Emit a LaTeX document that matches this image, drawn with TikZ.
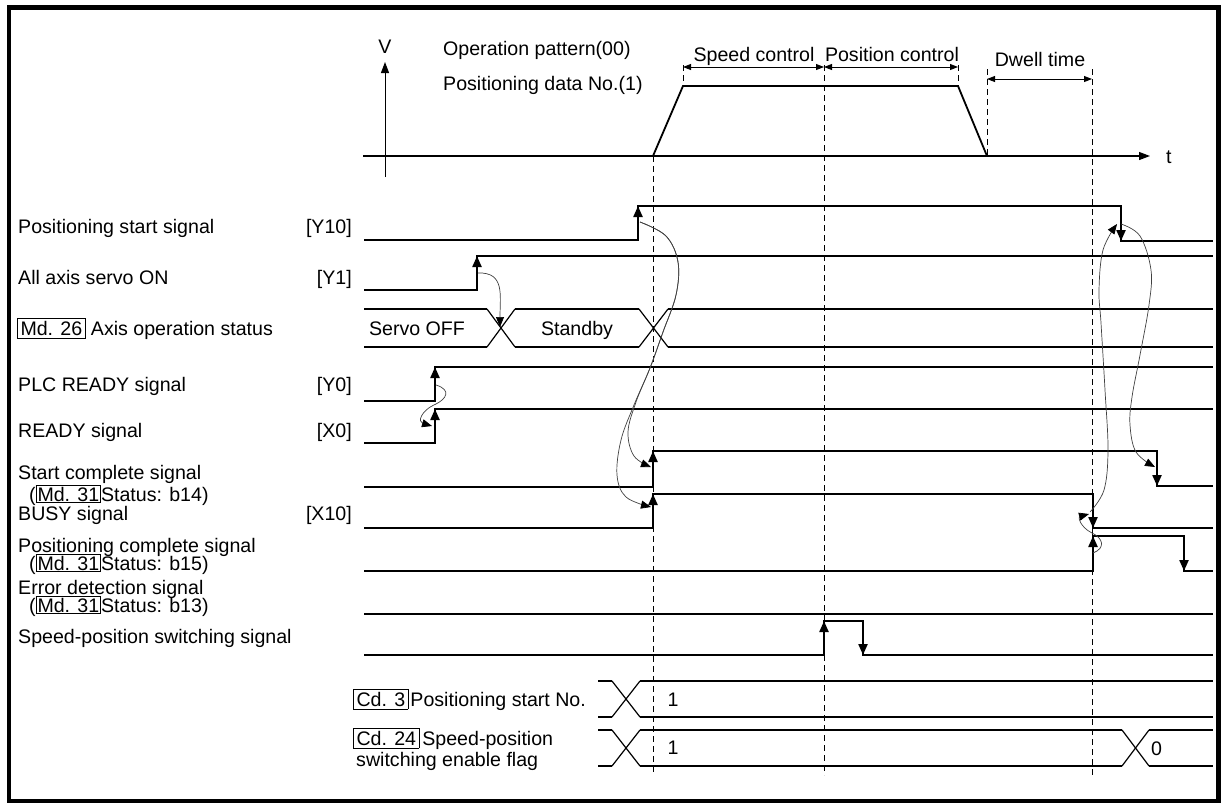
\documentclass[tikz,border=0pt]{standalone}
\usepackage{fontspec}
\setmainfont{Liberation Sans}
\usetikzlibrary{arrows.meta}
\newcommand{\bx}[1]{{\setlength{\fboxsep}{2.5pt}\setlength{\fboxrule}{0.8pt}\fbox{#1}}}
\newcommand{\tbx}[1]{{\setlength{\fboxsep}{1pt}\setlength{\fboxrule}{0.8pt}\fbox{#1}}}
\begin{document}
\begin{tikzpicture}[x=1pt,y=-1pt,
  every node/.style={font=\fontsize{19.6}{21}\selectfont, inner sep=0pt},
  sig/.style={line width=2.2pt},
  bus/.style={line width=2.2pt},
  xing/.style={line width=1.2pt},
  edgearr/.style={line width=2.2pt,-{Triangle[length=11pt,width=9pt]}},
  dashline/.style={line width=0.8pt, dash pattern=on 6pt off 4pt},
  note/.style={line width=0.7pt, draw=black!75},
  notearr/.style={note, -{Triangle[length=10pt,width=8pt,color=black,fill=black]}},
  dimarr/.style={line width=0.9pt, {Triangle[length=8pt,width=6pt]}-{Triangle[length=8pt,width=6pt]}},
  lbl/.style={anchor=base west},
  rlbl/.style={anchor=base east},
  clbl/.style={anchor=base}
]
\useasboundingbox (0,0) rectangle (1221,807);
\draw[line width=4.5pt] (9,7.5) rectangle (1218.5,801);

% ---- velocity chart ----
\draw[line width=1pt,-{Triangle[length=11pt,width=8pt]}] (385,177) -- (385,62);
\node[clbl] (V) at (385,53) {V};
\draw[line width=1.2pt,-{Triangle[length=11pt,width=8pt]}] (363,156) -- (1150,156);
\node[lbl] (t) at (1166,163) {t};
\node[lbl] (op) at (443,55) {Operation pattern(00)};
\node[lbl] (pd) at (443,90) {Positioning data No.(1)};
\draw[line width=1.8pt] (653,156) -- (683,86) -- (958,86) -- (987,156);

\draw[dashline] (653,156) -- (653,775);
\draw[dashline] (683,65) -- (683,86);
\draw[dashline] (824,65) -- (824,775);
\draw[dashline] (958,65) -- (958,86);
\draw[dashline] (987,69) -- (987,156);
\draw[dashline] (1092,69) -- (1092,775);

\draw[dimarr] (683,67) -- (824,67);
\draw[dimarr] (824,67) -- (958,67);
\draw[dimarr] (987,79) -- (1092,79);
\node[clbl] (sc) at (754,61) {Speed control};
\node[clbl] (pc) at (892,61) {Position control};
\node[clbl] (dw) at (1040,66) {Dwell time};

% ---- labels ----
\node[lbl] (l1) at (18,233) {Positioning start signal};
\node[rlbl] (r1) at (352,233) {[Y10]};
\node[lbl] (l2) at (18,284) {All axis servo ON};
\node[rlbl] (r2) at (352,284) {[Y1]};
\node[lbl] (l3) at (17,335) {\bx{Md. 26} Axis operation status};
\node[lbl] (l4) at (18,391) {PLC READY signal};
\node[rlbl] (r4) at (352,391) {[Y0]};
\node[lbl] (l5) at (18,437) {READY signal};
\node[rlbl] (r5) at (352,437) {[X0]};
\node[lbl] (l6) at (18,479) {Start complete signal};
\node[lbl] (l6b) at (29,501) {(\tbx{Md. 31}Status: b14)};
\node[lbl] (l7) at (18,520) {BUSY signal};
\node[rlbl] (r7) at (352,520) {[X10]};
\node[lbl] (l8) at (18,552) {Positioning complete signal};
\node[lbl] (l8b) at (29,570) {(\tbx{Md. 31}Status: b15)};
\node[lbl] (l9) at (18,594) {Error detection signal};
\node[lbl] (l9b) at (29,612) {(\tbx{Md. 31}Status: b13)};
\node[lbl] (l10) at (18,643) {Speed-position switching signal};
\node[lbl] (l11) at (353,706) {\bx{Cd. 3}\kern2pt Positioning start No.};
\node[lbl] (l12) at (353,745) {\bx{Cd. 24}\kern3pt Speed-position};
\node[lbl] (l12b) at (356,766) {switching enable flag};

% ---- signals ----
% Y10
\draw[sig] (364,240) -- (638,240) -- (638,206) -- (1121,206) -- (1121,241) -- (1213,241);
\draw[edgearr] (638,240) -- (638,206);
\draw[edgearr] (1121,206) -- (1121,241);
% Y1
\draw[sig] (364,290) -- (477,290) -- (477,256) -- (1213,256);
\draw[edgearr] (477,290) -- (477,256);
% Md.26 bus
\draw[bus] (364,309) -- (487,309);
\draw[bus] (364,347) -- (487,347);
\draw[xing] (487,309) -- (515,347);
\draw[xing] (487,347) -- (515,309);
\draw[bus] (515,309) -- (639,309);
\draw[bus] (515,347) -- (639,347);
\draw[xing] (639,309) -- (668,347);
\draw[xing] (639,347) -- (668,309);
\draw[bus] (668,309) -- (1213,309);
\draw[bus] (668,347) -- (1213,347);
\node[clbl] (so) at (417,335) {Servo OFF};
\node[clbl] (sb) at (577,335) {Standby};
% Y0
\draw[sig] (364,401) -- (435,401) -- (435,367) -- (1213,367);
\draw[edgearr] (435,401) -- (435,367);
% X0
\draw[sig] (364,443) -- (435,443) -- (435,409) -- (1213,409);
\draw[edgearr] (435,443) -- (435,409);
% start complete
\draw[sig] (364,487) -- (653,487) -- (653,451) -- (1157,451) -- (1157,486) -- (1213,486);
\draw[edgearr] (653,487) -- (653,451);
\draw[edgearr] (1157,451) -- (1157,486);
% BUSY
\draw[sig] (364,528) -- (653,528) -- (653,494) -- (1093,494) -- (1093,528) -- (1213,528);
\draw[edgearr] (653,528) -- (653,494);
\draw[edgearr] (1093,494) -- (1093,528);
% positioning complete
\draw[sig] (364,571) -- (1093,571) -- (1093,536) -- (1184,536) -- (1184,571) -- (1213,571);
\draw[edgearr] (1093,571) -- (1093,536);
\draw[edgearr] (1184,536) -- (1184,571);
% error detection
\draw[sig] (364,614) -- (1213,614);
% speed-position switching
\draw[sig] (364,655) -- (824,655) -- (824,621) -- (863,621) -- (863,655) -- (1213,655);
\draw[edgearr] (824,655) -- (824,621);
\draw[edgearr] (863,621) -- (863,655);
% Cd.3 bus
\draw[bus] (598,681) -- (612,681);
\draw[bus] (598,717) -- (612,717);
\draw[xing] (612,681) -- (640,717);
\draw[xing] (612,717) -- (640,681);
\draw[bus] (640,681) -- (1213,681);
\draw[bus] (640,717) -- (1213,717);
\node[clbl] (v1) at (673,706) {1};
% Cd.24 bus
\draw[bus] (598,730) -- (612,730);
\draw[bus] (598,766) -- (612,766);
\draw[xing] (612,730) -- (640,766);
\draw[xing] (612,766) -- (640,730);
\draw[bus] (640,730) -- (1122,730);
\draw[bus] (640,766) -- (1122,766);
\draw[xing] (1122,730) -- (1149,766);
\draw[xing] (1122,766) -- (1149,730);
\draw[bus] (1149,730) -- (1213,730);
\draw[bus] (1149,766) -- (1213,766);
\node[clbl] (v2) at (673,754) {1};
\node[lbl] (v0) at (1151,755) {0};

% ---- cause/effect curves ----
\draw[notearr] (478,273) .. controls (505,272) and (500,295) .. (500,327);
\draw[notearr] (436,385) .. controls (452,390) and (446,399) .. (436,404) .. controls (420,411) and (418,422) .. (432,426);
\draw[notearr] plot[smooth,tension=0.6] coordinates {(640,222) (666,236) (678,262) (676,295) (663,332) (650,368) (636,402) (628,432) (634,456) (651,467)};
\draw[notearr] plot[smooth,tension=0.6] coordinates {(640,222) (666,236) (678,262) (676,295) (663,332) (650,368) (634,405) (621,440) (617,475) (626,497) (651,507)};
\draw[notearr] plot[smooth,tension=0.6] coordinates {(1121,224) (1140,236) (1151,270) (1149,305) (1140,355) (1132,397) (1130,425) (1136,452) (1155,467)};
\draw[notearr] plot[smooth,tension=0.6] coordinates {(1090,512) (1104,490) (1108,450) (1105,390) (1101,323) (1099,290) (1103,250) (1117,224)};
\draw[notearr] (1093,553) .. controls (1106,548) and (1103,538) .. (1092,533) .. controls (1080,527) and (1078,517) .. (1089,514);
\end{tikzpicture}
\end{document}
